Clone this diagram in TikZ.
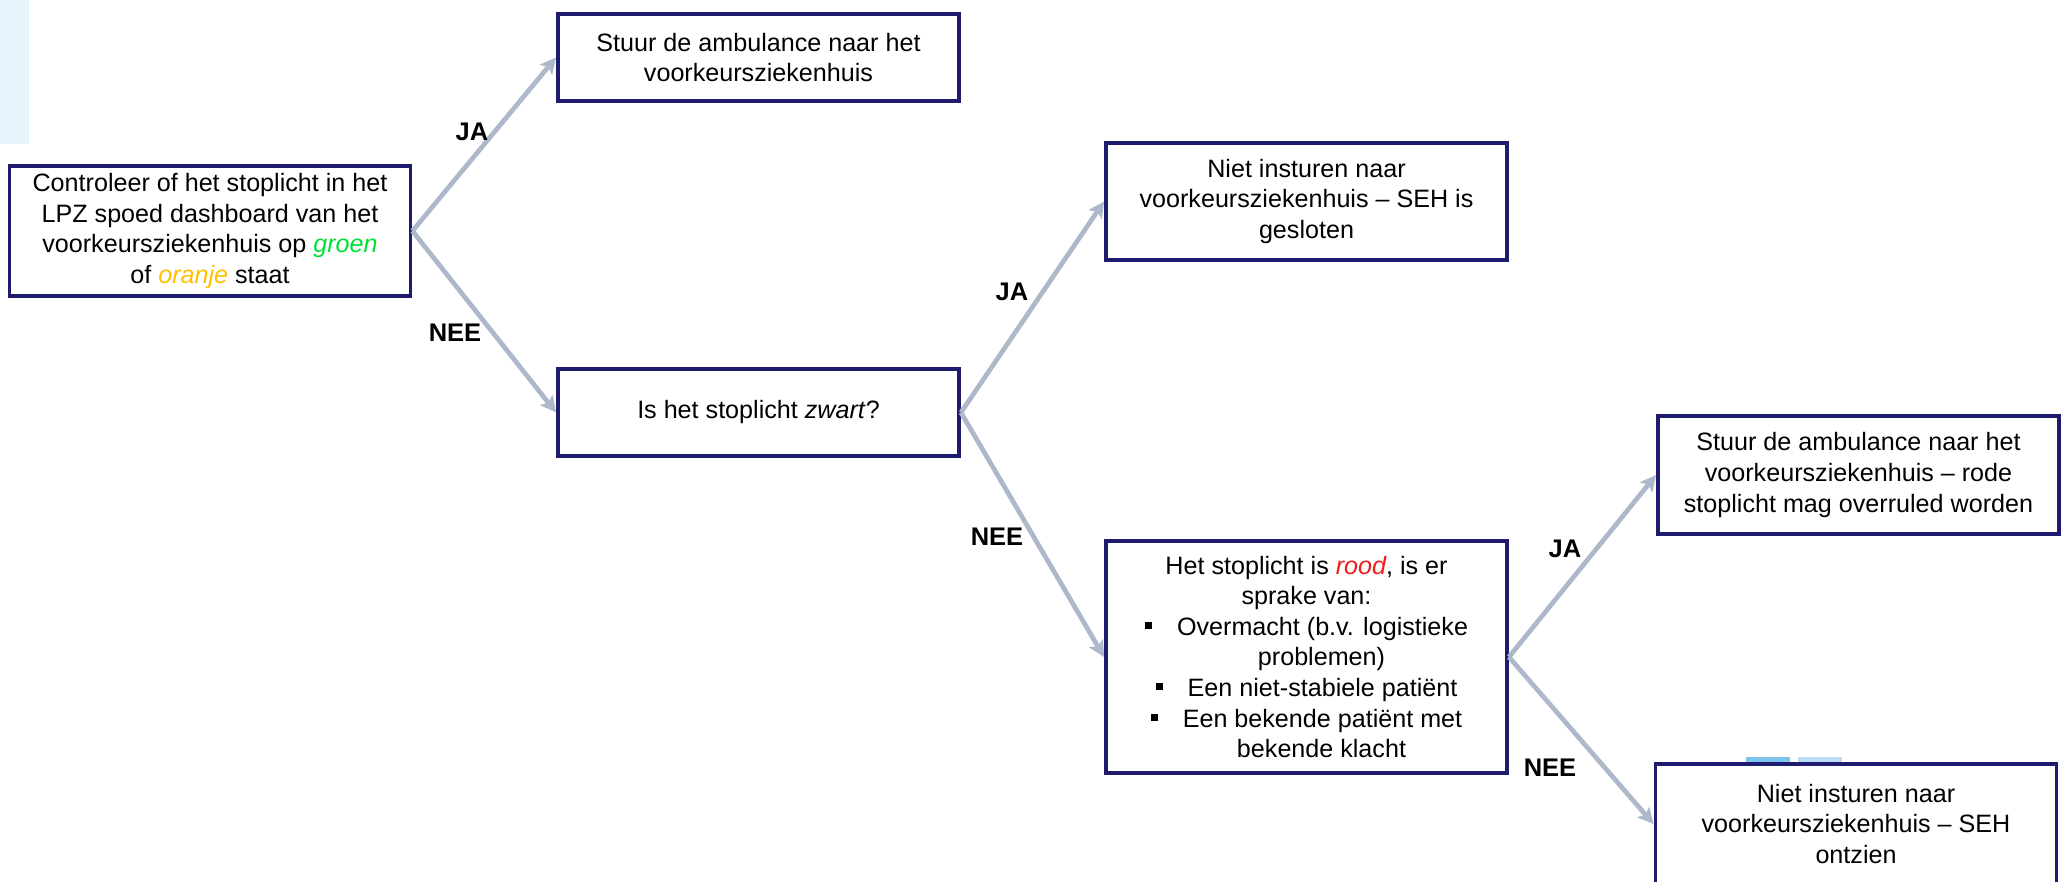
\documentclass[tikz,border=0pt]{standalone}
\usepackage{fontspec}
\setmainfont{Liberation Sans}
\usepackage{xcolor}
\usetikzlibrary{arrows.meta}
\definecolor{boxrand}{HTML}{1F1B6E}
\definecolor{pijl}{HTML}{ADB9CA}
\definecolor{groen}{HTML}{00E036}
\definecolor{oranje}{HTML}{FFC000}
\definecolor{rood}{HTML}{EE1C1C}
\definecolor{lichtblauw}{HTML}{E8F4FC}
\definecolor{blauwA}{HTML}{7DC3EC}
\definecolor{blauwB}{HTML}{BADCF4}
\newcommand{\blok}{\rule[0.25em]{4pt}{4pt}\hspace{0.5cm}}

\begin{document}
\begin{tikzpicture}[
    vak/.style={draw=boxrand, line width=2.2pt, fill=white, align=center,
                minimum width=8.02cm, inner sep=2pt,
                font=\fontsize{14.3}{17.4}\selectfont},
    pijlstijl/.style={draw=pijl, line width=2.7pt,
                      -{Stealth[length=9pt,width=9pt,inset=2pt]}},
    keuze/.style={font=\fontsize{14.5}{17.4}\selectfont\bfseries}]
    \useasboundingbox (0,0) rectangle (41.28,17.64);

    % achtergrond
    \fill[lichtblauw] (0,17.64) rectangle (0.58,14.76);
    \fill[blauwA] (34.92,2.5) rectangle (35.80,2.2);
    \fill[blauwB] (35.96,2.5) rectangle (36.84,2.2);

    % vakken
    \node[vak, minimum height=2.6cm] (controle) at (4.2,13.02)
        {Controleer of het stoplicht in het\\
         LPZ spoed dashboard van het\\
         voorkeursziekenhuis op \textit{\textcolor{groen}{groen}}\\
         of \textit{\textcolor{oranje}{oranje}} staat};
    \node[vak, minimum height=1.74cm] (ambulance) at (15.17,16.49)
        {Stuur de ambulance naar het\\ voorkeursziekenhuis};
    \node[vak, minimum height=1.74cm] (zwart) at (15.17,9.39)
        {Is het stoplicht \textit{zwart}?};
    \node[vak, minimum height=2.34cm] (gesloten) at (26.13,13.61)
        {Niet insturen naar\\ voorkeursziekenhuis -- SEH is\\ gesloten};
    \node[vak, minimum height=4.64cm] (rood) at (26.13,4.5)
        {Het stoplicht is \textit{\textcolor{rood}{rood}}, is er\\
         sprake van:\\
         \blok Overmacht (b.v. logistieke\\
         \hspace*{0.6cm}problemen)\\
         \blok Een niet-stabiele patiënt\\
         \blok Een bekende patiënt met\\
         \hspace*{0.6cm}bekende klacht};
    \node[vak, minimum height=2.36cm] (overrule) at (37.17,8.14)
        {Stuur de ambulance naar het\\ voorkeursziekenhuis -- rode\\ stoplicht mag overruled worden};
    \node[vak, minimum height=2.4cm] (ontzien) at (37.12,1.16)
        {Niet insturen naar\\ voorkeursziekenhuis -- SEH\\ ontzien};

    % pijlen
    \draw[pijlstijl] (controle.east) -- (ambulance.west);
    \draw[pijlstijl] (controle.east) -- (zwart.west);
    \draw[pijlstijl] (zwart.east) -- (gesloten.west);
    \draw[pijlstijl] (zwart.east) -- (rood.west);
    \draw[pijlstijl] (rood.east) -- (overrule.west);
    \draw[pijlstijl] (rood.east) -- (ontzien.west);

    % keuzes
    \node[keuze] (ja1) at (9.44,15.0) {JA};
    \node[keuze] (nee1) at (9.1,10.98) {NEE};
    \node[keuze] (ja2) at (20.24,11.8) {JA};
    \node[keuze] (nee2) at (19.94,6.9) {NEE};
    \node[keuze] (ja3) at (31.3,6.66) {JA};
    \node[keuze] (nee3) at (31.0,2.28) {NEE};
\end{tikzpicture}
\end{document}
